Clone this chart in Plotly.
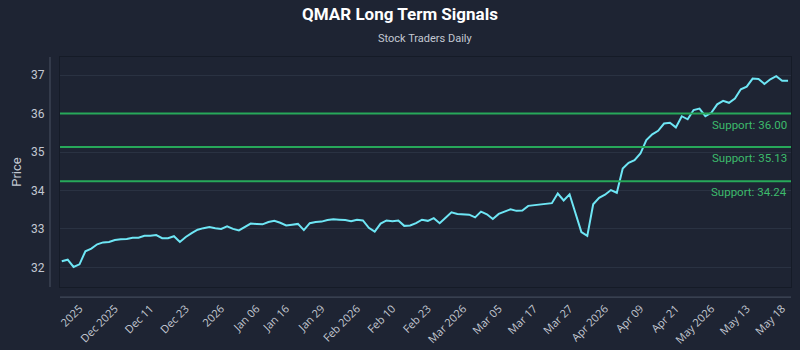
import plotly.graph_objects as go

title = "QMAR Long Term Signals"
subtitle = "Stock Traders Daily"

prices = [
    32.16, 32.20, 32.01, 32.08, 32.42, 32.49, 32.60, 32.65, 32.66, 32.71,
    32.73, 32.74, 32.77, 32.77, 32.82, 32.82, 32.84, 32.76, 32.76, 32.81,
    32.66, 32.79, 32.89, 32.98, 33.02, 33.05, 33.02, 33.00, 33.07, 33.00,
    32.96, 33.05, 33.14, 33.13, 33.12, 33.18, 33.21, 33.16, 33.09, 33.11,
    33.13, 32.97, 33.15, 33.18, 33.19, 33.23, 33.25, 33.24, 33.23, 33.20,
    33.24, 33.22, 33.03, 32.93, 33.14, 33.22, 33.20, 33.22, 33.08, 33.09,
    33.15, 33.24, 33.21, 33.28, 33.15, 33.29, 33.43, 33.39, 33.38, 33.37,
    33.30, 33.45, 33.38, 33.26, 33.39, 33.46, 33.51, 33.47, 33.48, 33.60,
    33.62, 33.64, 33.66, 33.67, 33.92, 33.74, 33.90, 33.40, 32.92, 32.82,
    33.64, 33.81, 33.89, 34.01, 33.94, 34.57, 34.72, 34.79, 34.96, 35.31,
    35.46, 35.55, 35.74, 35.76, 35.64, 35.93, 35.85, 36.09, 36.13, 35.93,
    36.02, 36.24, 36.33, 36.28, 36.39, 36.63, 36.70, 36.91, 36.90, 36.77,
    36.89, 36.97, 36.85, 36.85,
]

support_levels = [36.00, 35.13, 34.24]

tick_index = [3, 9, 15, 21, 27, 33, 38, 44, 50, 56, 62, 68, 74, 80, 86, 92, 98, 104, 110, 116, 122]
tick_labels = [
    "2025", "Dec 2025", "Dec 11", "Dec 23", "2026", "Jan 06", "Jan 16", "Jan 29",
    "Feb 2026", "Feb 10", "Feb 23", "Mar 2026", "Mar 05", "Mar 17", "Mar 27",
    "Apr 2026", "Apr 09", "Apr 21", "May 2026", "May 13", "May 18",
]

BG = "#1e2433"
GRID = "#2a3242"
TEXT = "#c3c8d2"
GREEN = "#27a85a"
CYAN = "#6ee6f5"
TECH = "Roboto, sans-serif"

x = list(range(len(prices)))

fig = go.Figure()
fig.add_trace(go.Scatter(x=x, y=prices, mode="lines",
                         line=dict(color=CYAN, width=2), hoverinfo="skip",
                         showlegend=False))

for lvl in support_levels:
    fig.add_hline(y=lvl, line=dict(color=GREEN, width=2), layer="above")
    fig.add_annotation(x=1, xref="paper", y=lvl, yref="y", xanchor="right",
                       yanchor="top", xshift=-2, yshift=-2, showarrow=False,
                       text=f"Support: {lvl:.2f}",
                       font=dict(family=TECH, size=11.5, color="#3dbb6c"))

# offset axis lines
fig.add_shape(type="line", xref="paper", yref="paper", x0=0, x1=1,
              y0=-0.044, y1=-0.044, line=dict(color="#4b5364", width=1))
fig.add_shape(type="line", xref="paper", yref="paper", x0=-0.0137, x1=-0.0137,
              y0=0, y1=1, line=dict(color="#4b5364", width=1))

fig.add_annotation(text=subtitle, x=0.5, xref="paper", y=1 + (57 - 38) / 230,
                   yref="paper", yanchor="middle", showarrow=False,
                   font=dict(family=TECH, size=11, color=TEXT))

fig.update_layout(
    width=800, height=350,
    margin=dict(l=60, r=9, t=57, b=63, autoexpand=False),
    paper_bgcolor=BG, plot_bgcolor=BG,
    title=dict(text=f"<b>{title}</b>", x=0.5, xanchor="center", y=0.96,
               yanchor="middle", font=dict(family=TECH, size=17, color="#ffffff")),
    xaxis=dict(range=[-0.3, 123.5], tickmode="array", tickvals=tick_index,
               ticktext=tick_labels, tickangle=-45, showgrid=False,
               zeroline=False, showline=True, mirror=True, linecolor="#151b27",
               ticklabelstandoff=10, automargin=False,
               tickfont=dict(family="Open Sans, sans-serif", size=11, color=TEXT)),
    yaxis=dict(range=[31.49, 37.47], dtick=1, showgrid=True, gridcolor=GRID,
               zeroline=False, showline=True, mirror=True, linecolor="#151b27",
               ticklabelstandoff=12, automargin=False,
               title=dict(text="Price", font=dict(family=TECH, size=13, color=TEXT),
                          standoff=6),
               tickfont=dict(family=TECH, size=12, color=TEXT)),
)

fig.write_html("out.html")
